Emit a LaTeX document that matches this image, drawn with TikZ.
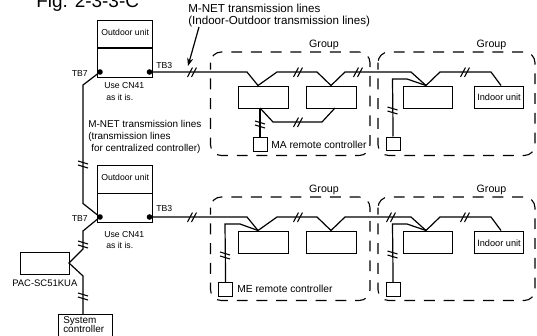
\documentclass[tikz,border=0pt]{standalone}
\usepackage{fontspec}
\setmainfont{Liberation Sans}
\usetikzlibrary{arrows.meta}
\tikzset{
  x=0.75pt,y=-0.75pt,
  wire/.style={line width=0.9pt,line join=miter},
  groupbox/.style={draw,line width=0.85pt,rounded corners=8pt,dash pattern=on 8.2pt off 6.6pt,dash phase=3pt},
  term/.style={circle,fill=black,inner sep=0pt,minimum size=4.2pt},
  lab/.style={anchor=base west,inner sep=0pt,font=\fontsize{6.5pt}{8pt}\selectfont},
  toplab/.style={anchor=base west,inner sep=0pt,font=\fontsize{8.7pt}{9pt}\selectfont},
  midlab/.style={anchor=base west,inner sep=0pt,font=\fontsize{7.45pt}{9pt}\selectfont},
  remlab/.style={anchor=base west,inner sep=0pt,font=\fontsize{7.7pt}{9pt}\selectfont},
  grouplab/.style={anchor=base,inner sep=0pt,font=\fontsize{8pt}{9pt}\selectfont},
}
\newcommand{\slashes}[2]{\draw[line width=0.8pt] (#1-4.5,#2+5) -- (#1+0.5,#2-4.5) (#1-0.5,#2+5) -- (#1+4.5,#2-4.5);}
\newcommand{\bars}[2]{\draw[line width=0.8pt] (#1-5,#2-4) -- (#1+5,#2-1) (#1-5,#2) -- (#1+5,#2+3);}
\newcommand{\rect}[5]{\node[draw,line width=0.9pt,inner sep=0pt,minimum width=#4*0.75pt,minimum height=#5*0.75pt,anchor=north west] (#1) at (#2,#3) {};}
\begin{document}
\begin{tikzpicture}
\useasboundingbox (0,0) rectangle (537,336);
\clip (0,0) rectangle (537,336);
% outdoor units
\rect{outA}{97}{20}{55}{57}
\rect{outB}{97}{165}{55}{57}
\draw[wire] (97,48) -- (152,48) (97,193.5) -- (152,193.5);
\node[term] (tb7a) at (100,72) {};
\node[term] (tb3a) at (149.5,72) {};
\node[term] (tb7b) at (100,217) {};
\node[term] (tb3b) at (149.5,217) {};
% indoor units
\foreach \r/\yy in {a/85.5,b/230.5}{
  \rect{i1\r}{238}{\yy}{49.5}{22.5}
  \rect{i2\r}{306}{\yy}{49.5}{22.5}
  \rect{i3\r}{403}{\yy}{49}{22.5}
  \rect{i4\r}{474}{\yy}{49}{22.5}
}
% remote controllers
\rect{rmA}{253}{137}{14}{13.5}
\rect{rmB}{385.5}{136.5}{14}{13.5}
\rect{rmC}{218}{282}{14}{13.5}
\rect{rmD}{385.5}{282}{14}{13.5}
% other boxes
\rect{pac}{20}{252}{49}{22}
\rect{sys}{58}{314}{54}{22}
% groups
\draw[groupbox] (210.5,52) rectangle (370,155.5);
\draw[groupbox] (378,52) rectangle (535,155.5);
\draw[groupbox] (210.5,197) rectangle (370,300.5);
\draw[groupbox] (378,197) rectangle (535,300.5);
% M-NET backbone
\draw[wire] (tb7a.center) -- (83,85) -- (83,203.5) -- (tb7b.center);
\draw[wire] (tb7b.center) -- (83,231) -- (83,249) -- (69,263) -- (83,276) -- (sys.north -| 83,0);
% indoor-outdoor lines
\foreach \r/\yl/\yb in {a/72/85.5,b/217/230.5}{
  \draw[wire] (tb3\r.center) -- (247,\yl) -- (258,\yb) -- (277,\yl) -- (317,\yl) -- (331,\yb) -- (345,\yl) -- (411,\yl) -- (426,\yb) -- (440,\yl) -- (491,\yl) -- (501,\yb);
}
% lower bus in group A
\draw[wire] (260,108) -- (273,122) -- (322,122) -- (335,108);
% remote wires
\draw[wire] (260,108) -- (rmA.north -| 260,0);
\draw[wire] (rmB.north) -- (392.5,79) -- (407,79) -- (426,85.5);
\draw[wire] (rmC.north) -- (225,224) -- (240,224) -- (258,230.5);
\draw[wire] (rmD.north) -- (392.5,224) -- (407,224) -- (426,230.5);
% tick marks
\slashes{192}{72}\slashes{298}{72}\slashes{358}{72}\slashes{465}{72}
\slashes{298}{122}
\slashes{192}{217}\slashes{298}{217}\slashes{391}{217}\slashes{465}{217}
\bars{83}{165}\bars{83}{245}\bars{83}{297}
\bars{260}{125}\bars{392.5}{111}\bars{225}{256}\bars{392.5}{255}
% arrow
\coordinate (arrS) at (199,27);
\coordinate (arrE) at (188,66);
\draw[wire,-{Stealth[length=6pt,width=4.5pt]}] (arrS) -- (arrE);
% texts
\node[anchor=base west,inner sep=0pt,font=\fontsize{14.2pt}{16pt}\selectfont] (fig) at (36,7.5) {Fig. 2-3-3-C};
\node[toplab] (t1) at (188,12.5) {M-NET transmission lines};
\node[toplab] (t2) at (188,24) {(Indoor-Outdoor transmission lines)};
\node[midlab] (t3) at (88,127) {M-NET transmission lines};
\node[midlab] (t4) at (88,139) {(transmission lines};
\node[midlab] (t5) at (91,151) {for centralized controller)};
\node[lab] (o1) at (101,35) {Outdoor unit};
\node[lab] (o2) at (101,180) {Outdoor unit};
\node[lab] (tb3la) at (156,68) {TB3};
\node[lab] (tb3lb) at (156,211) {TB3};
\node[lab] (tb7la) at (71.5,76.5) {TB7};
\node[lab] (tb7lb) at (71.5,221.5) {TB7};
\node[lab] (u1) at (104,88) {Use CN41};
\node[lab] (u2) at (106,100) {as it is.};
\node[lab] (u3) at (104,237) {Use CN41};
\node[lab] (u4) at (106,248) {as it is.};
\node[midlab,font=\fontsize{7.1pt}{9pt}\selectfont] (pacl) at (12,286) {PAC-SC51KUA};
\node[midlab] (sys1) at (63,323) {System};
\node[midlab] (sys2) at (63,332) {controller};
\node[grouplab] (g1) at (324,47) {Group};
\node[grouplab] (g2) at (491.5,47) {Group};
\node[grouplab] (g3) at (324,192) {Group};
\node[grouplab] (g4) at (491.5,192) {Group};
\node[lab,font=\fontsize{6.9pt}{8pt}\selectfont] (iu1) at (477,100.5) {Indoor unit};
\node[lab,font=\fontsize{6.9pt}{8pt}\selectfont] (iu2) at (477,246) {Indoor unit};
\node[remlab] (ma) at (271,148) {MA remote controller};
\node[remlab] (me) at (237,292) {ME remote controller};
\end{tikzpicture}
\end{document}
